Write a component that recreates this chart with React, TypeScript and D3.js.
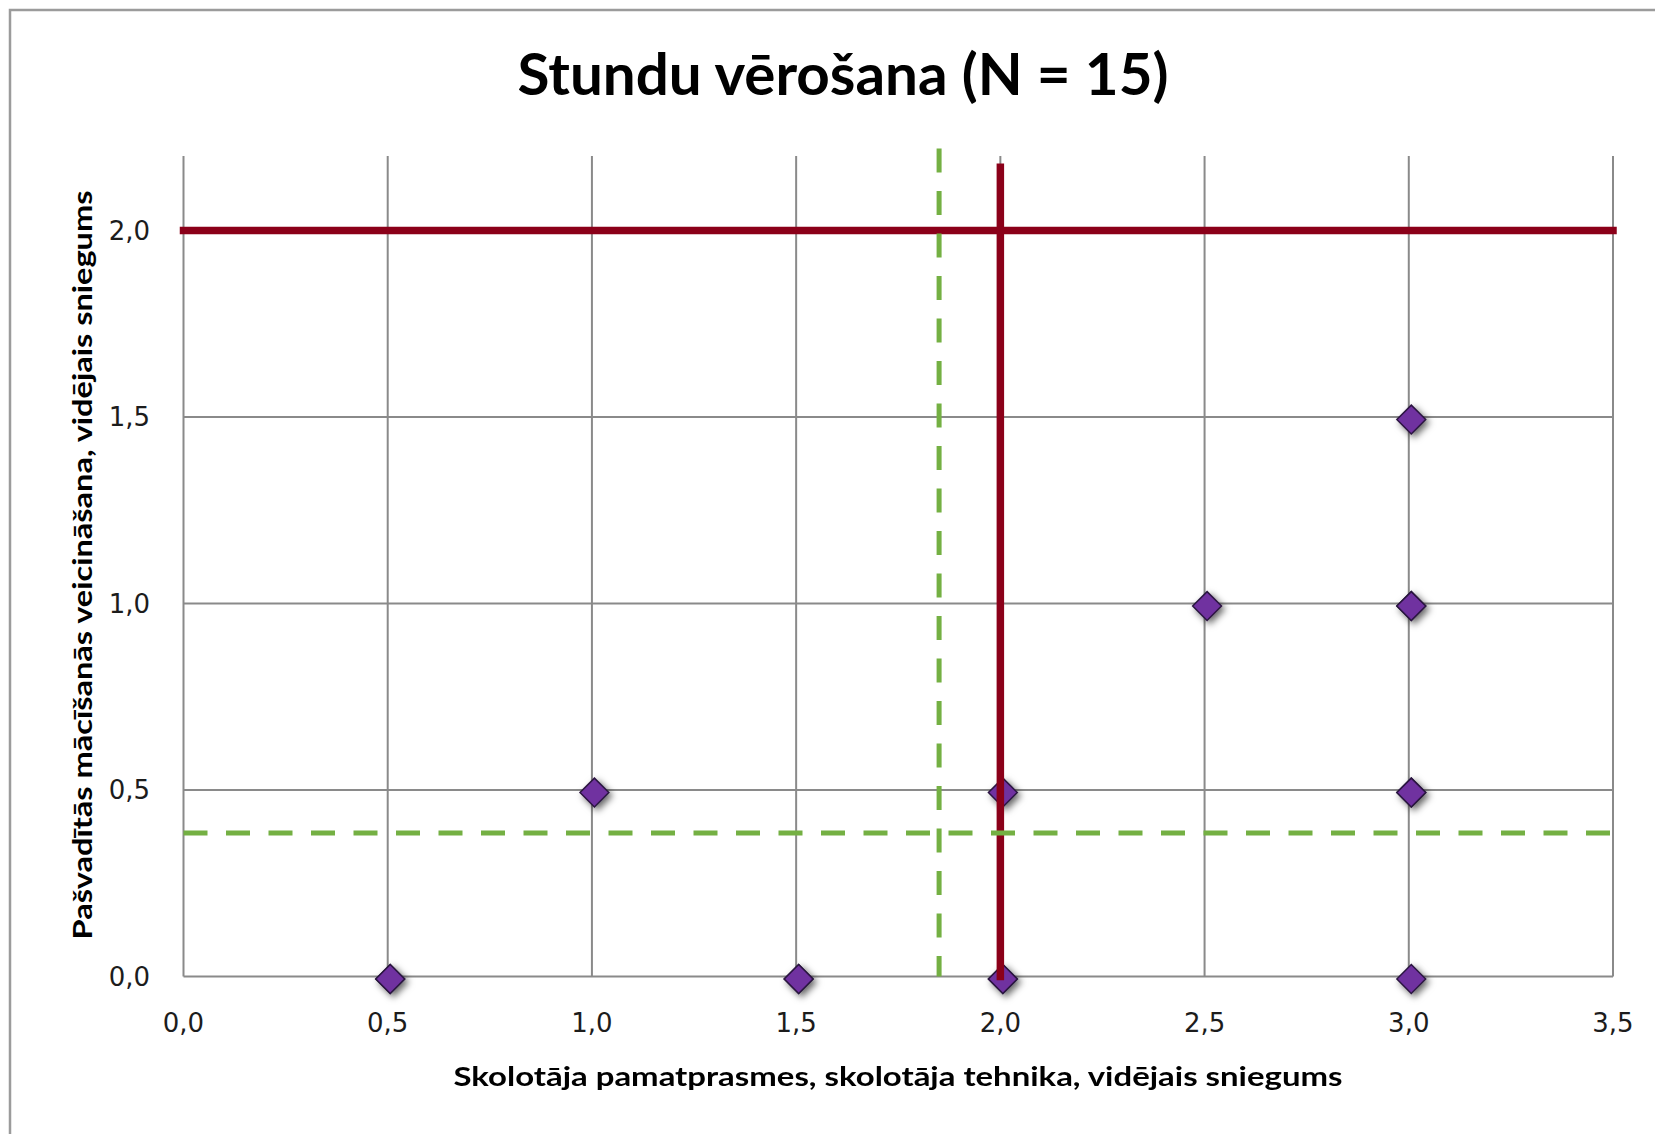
import React from "react";
import * as d3 from "d3";

// data
const title = "Stundu vērošana (N = 15)";
const xTitle = "Skolotāja pamatprasmes, skolotāja tehnika, vidējais sniegums";
const yTitle = "Pašvadītās mācīšanās veicināšana, vidējais sniegums";

const xTicks = [0, 0.5, 1, 1.5, 2, 2.5, 3, 3.5];
const yTicks = [0, 0.5, 1, 1.5, 2];

// lessons: x = teacher basics, y = self-directed learning
const lessonX = [0.5, 0.5, 1.0, 1.5, 1.5, 2.0, 2.0, 2.0, 2.5, 3.0, 3.0, 3.0, 3.0, 3.0, 3.0];
const lessonY = [0.0, 0.0, 0.5, 0.0, 0.0, 0.5, 0.0, 0.0, 1.0, 1.5, 1.0, 1.0, 0.5, 0.5, 0.0];

// reference lines
const targetX = 2.0;
const targetY = 2.0;
const meanX = 1.85;
const meanY = 0.385;
const targetTop = 2.17;
const meanTop = 2.22;

const W = 1655;
const H = 1134;

const fmt = (d: number) => d.toFixed(1).replace(".", ",");

export default function App() {
  const x = d3.scaleLinear().domain([0, 3.5]).range([183.5, 1613]);
  const y = d3.scaleLinear().domain([0, 2.2]).range([976.5, 156]);

  const line = d3.line<[number, number]>().x(d => x(d[0])).y(d => y(d[1]));
  const diamond = d3.symbol(d3.symbolDiamond2, 530)();

  const gridColor = "#8a8a8a";
  const red = "#8b0019";
  const green = "#74b043";

  return (
    <svg width={W} height={H} style={{ position: "absolute", left: 0, top: 0, background: "#fff" }}>
      <defs>
        <filter id="shadow" x="-60%" y="-60%" width="220%" height="220%">
          <feDropShadow dx="3" dy="3" stdDeviation="3.5" floodColor="#000" floodOpacity="0.6" />
        </filter>
      </defs>

      <rect x={10} y={10} width={W + 20} height={H + 20} fill="#fff" stroke="#9b9b9b" strokeWidth={2.5} />

      <text
        x={843}
        y={95}
        textAnchor="middle"
        fontFamily="Lato, 'Open Sans', sans-serif"
        fontWeight={700}
        fontSize={58}
        fill="#000"
        textLength={651}
        lengthAdjust="spacingAndGlyphs"
      >
        {title}
      </text>

      {/* grid */}
      <g stroke={gridColor} strokeWidth={2}>
        {xTicks.map(t => (
          <line key={"vx" + t} x1={x(t)} x2={x(t)} y1={y(2.2)} y2={y(0)} />
        ))}
        {yTicks.map(t => (
          <line key={"hy" + t} x1={x(0)} x2={x(3.5)} y1={y(t)} y2={y(t)} />
        ))}
      </g>

      {/* tick labels */}
      <g fontFamily="'DejaVu Sans', Verdana, sans-serif" fontSize={26} fill="#1c1c1c">
        {yTicks.map(t => (
          <text key={"yl" + t} x={150} y={y(t)} dy="0.36em" textAnchor="end">
            {fmt(t)}
          </text>
        ))}
        {xTicks.map(t => (
          <text key={"xl" + t} x={x(t)} y={1032} textAnchor="middle">
            {fmt(t)}
          </text>
        ))}
      </g>

      {/* points */}
      <g filter="url(#shadow)">
        {lessonX.map((v, i) => (
          <path
            key={"p" + i}
            d={diamond || ""}
            transform={`translate(${x(v) + 2.5},${y(lessonY[i]) + 2.5})`}
            fill="#7030a0"
            stroke="#2b1640"
            strokeWidth={1.5}
          />
        ))}
      </g>

      {/* target lines */}
      <g fill="none" stroke={red} strokeWidth={7.5} strokeLinecap="square">
        <path d={line([[0, targetY], [3.5, targetY]]) || ""} />
        <path d={line([[targetX, 0], [targetX, targetTop]]) || ""} />
      </g>

      {/* mean lines */}
      <g fill="none" stroke={green} strokeWidth={5} strokeDasharray="24 18.5">
        <path d={line([[0, meanY], [3.5, meanY]]) || ""} />
        <path d={line([[meanX, meanTop], [meanX, 0]]) || ""} />
      </g>

      {/* axis titles */}
      <text
        x={898}
        y={1086}
        textAnchor="middle"
        fontFamily="Lato, 'Open Sans', sans-serif"
        fontWeight={700}
        fontSize={27}
        fill="#000"
        textLength={889}
        lengthAdjust="spacingAndGlyphs"
      >
        {xTitle}
      </text>
      <text
        transform="translate(92,565) rotate(-90)"
        textAnchor="middle"
        fontFamily="Lato, 'Open Sans', sans-serif"
        fontWeight={700}
        fontSize={27}
        fill="#000"
        textLength={749}
        lengthAdjust="spacingAndGlyphs"
      >
        {yTitle}
      </text>
    </svg>
  );
}
